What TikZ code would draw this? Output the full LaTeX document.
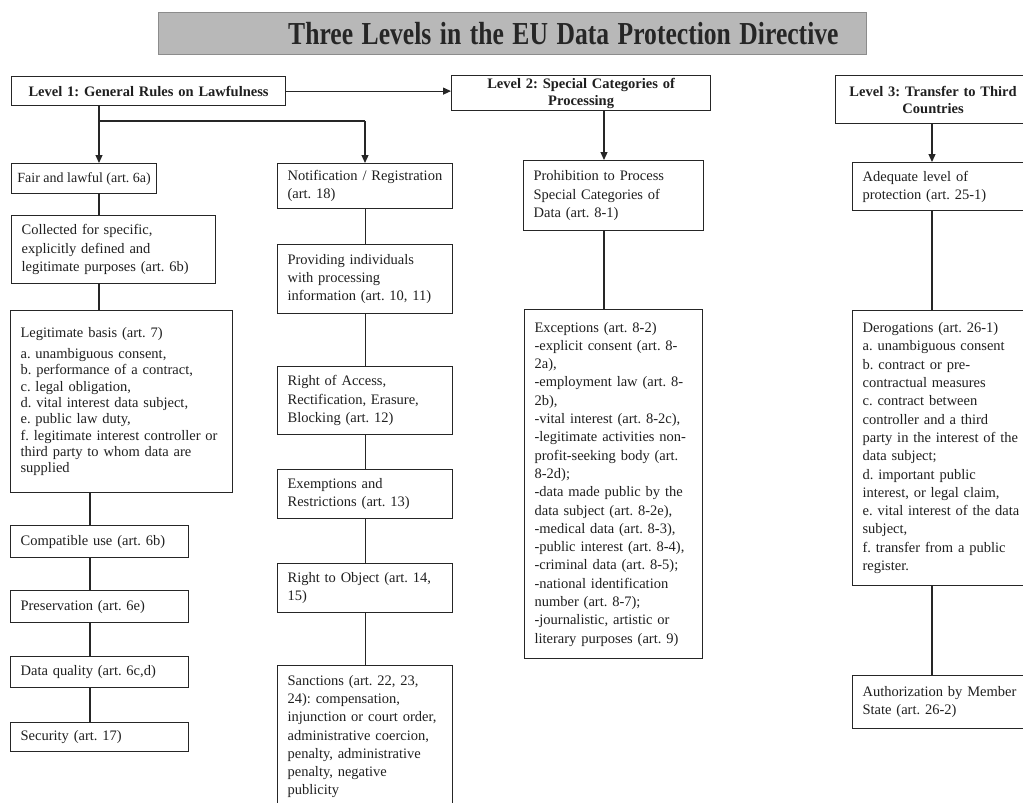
\documentclass[tikz,border=0pt]{standalone}
\usepackage{fontspec}
\setmainfont{Liberation Serif}
\usepackage{graphicx}
\usetikzlibrary{arrows.meta,positioning}
\frenchspacing

\begin{document}
\begin{tikzpicture}[x=1pt,y=-1pt,
    box/.style={draw=black!85,line width=1.2pt,anchor=north west,align=left,
      inner xsep=10pt,inner ysep=0pt,text=black!88,font=\fontsize{14.5}{18.3}\selectfont},
    lvl/.style={box,align=center,font=\fontsize{14.5}{17}\selectfont\bfseries},
    banner/.style={draw=black!45,fill=black!28,line width=1pt,anchor=north west,
      minimum width=708pt,minimum height=42pt,text width=652pt,align=right,
      inner xsep=28pt,inner ysep=0pt,text=black!85,font=\fontsize{32}{34}\selectfont\bfseries},
    wire/.style={line width=1.2pt,draw=black!85},
    feed/.style={wire,-{Triangle[length=8pt,width=7pt]}}]
  \useasboundingbox (0,0) rectangle (1023,803);

  \node[banner] (title) at (158,12) {\scalebox{0.8}[1]{Three Levels in the EU Data Protection Directive}};

  % the three levels
  \node[lvl,text width=254pt,minimum height=29pt] (lvlA) at (11,76) {Level 1: General Rules on Lawfulness};
  \node[lvl,text width=239pt,minimum height=35pt] (lvlB) at (451,75) {Level 2: Special Categories of\\Processing};
  \node[lvl,text width=175pt,minimum height=48pt] (lvlC) at (835,75) {Level 3: Transfer to Third\\Countries};

  % level 1, left column
  \node[box,minimum width=145pt,minimum height=30pt,inner xsep=5pt,font=\fontsize{14}{16}\selectfont] (fair) at (11,163) {Fair and lawful (art. 6a)};
  \node[box,text width=184pt,minimum height=68pt] (collect) at (11,215) {Collected for specific,\\explicitly defined and\\legitimate purposes (art. 6b)};
  \node[box,text width=202pt,minimum height=182pt,font=\fontsize{14.5}{16.3}\selectfont] (legit) at (10,310)
    {Legitimate basis (art. 7)\\[5pt]
     a. unambiguous consent,\\
     b. performance of a contract,\\
     c. legal obligation,\\
     d. vital interest data subject,\\
     e. public law duty,\\
     f. legitimate interest controller or\\
     third party to whom data are\\
     supplied};
  \node[box,text width=158pt,minimum height=32pt] (compat) at (10,525) {Compatible use (art. 6b)};
  \node[box,text width=158pt,minimum height=32pt] (keep) at (10,590) {Preservation (art. 6e)};
  \node[box,text width=158pt,minimum height=31pt] (quality) at (10,656) {Data quality (art. 6c,d)};
  \node[box,text width=158pt,minimum height=29pt] (secure) at (10,722) {Security (art. 17)};

  % level 1, second column
  \node[box,text width=155pt,minimum height=45pt] (notif) at (277,163) {Notification / Registration\\(art. 18)};
  \node[box,text width=155pt,minimum height=69pt] (inform) at (277,244) {Providing individuals\\with processing\\information (art. 10, 11)};
  \node[box,text width=155pt,minimum height=68pt] (access) at (277,366) {Right of Access,\\Rectification, Erasure,\\Blocking (art. 12)};
  \node[box,text width=155pt,minimum height=49pt] (exempt) at (277,469) {Exemptions and\\Restrictions (art. 13)};
  \node[box,text width=155pt,minimum height=49pt] (object) at (277,563) {Right to Object (art. 14,\\15)};
  \node[box,text width=155pt,minimum height=142pt] (sanction) at (277,665)
    {Sanctions (art. 22, 23,\\24): compensation,\\injunction or court order,\\administrative coercion,\\penalty, administrative\\penalty, negative\\publicity};

  % level 2
  \node[box,text width=160pt,minimum height=70pt] (prohib) at (523,160) {Prohibition to Process\\Special Categories of\\Data (art. 8-1)};
  \node[box,text width=158pt,minimum height=349pt] (except) at (524,309)
    {Exceptions (art. 8-2)\\
     -explicit consent (art. 8-\\2a),\\
     -employment law (art. 8-\\2b),\\
     -vital interest (art. 8-2c),\\
     -legitimate activities non-\\profit-seeking body (art.\\8-2d);\\
     -data made public by the\\data subject (art. 8-2e),\\
     -medical data (art. 8-3),\\
     -public interest (art. 8-4),\\
     -criminal data (art. 8-5);\\
     -national identification\\number (art. 8-7);\\
     -journalistic, artistic or\\literary purposes (art. 9)};

  % level 3
  \node[box,text width=158pt,minimum height=48pt] (adequate) at (852,162) {Adequate level of\\protection (art. 25-1)};
  \node[box,text width=158pt,minimum height=275pt] (derog) at (852,310)
    {Derogations (art. 26-1)\\
     a. unambiguous consent\\
     b. contract or pre-\\contractual measures\\
     c. contract between\\controller and a third\\party in the interest of the\\data subject;\\
     d. important public\\interest, or legal claim,\\
     e. vital interest of the data\\subject,\\
     f. transfer from a public\\register.};
  \node[box,text width=158pt,minimum height=53pt] (author) at (852,675) {Authorization by Member\\State (art. 26-2)};

  % connectors
  \coordinate (forkL) at (99,121);
  \coordinate (forkM) at (365,121);
  \coordinate (colA) at (90,0);
  \coordinate (colC) at (604,0);
  \coordinate (colD) at (932,0);

  \draw[feed] (lvlA.east) -- (lvlA.east -| lvlB.west);
  \draw[wire] (lvlA.south -| forkL) -- (forkL) -- (forkM);
  \draw[feed] (forkL) -- (fair.north -| forkL);
  \draw[feed] (forkM) -- (notif.north -| forkM);
  \draw[wire] (fair.south -| forkL) -- (collect.north -| forkL);
  \draw[wire] (collect.south -| forkL) -- (legit.north -| forkL);
  \foreach \a/\b in {legit/compat,compat/keep,keep/quality,quality/secure}
    \draw[wire] (\a.south -| colA) -- (\b.north -| colA);
  \foreach \a/\b in {notif/inform,inform/access,access/exempt,exempt/object,object/sanction}
    \draw[wire] (\a.south) -- (\b.north);
  \draw[feed] (lvlB.south -| colC) -- (prohib.north -| colC);
  \draw[wire] (prohib.south -| colC) -- (except.north -| colC);
  \draw[feed] (lvlC.south -| colD) -- (adequate.north -| colD);
  \draw[wire] (adequate.south -| colD) -- (derog.north -| colD);
  \draw[wire] (derog.south -| colD) -- (author.north -| colD);
\end{tikzpicture}
\end{document}
